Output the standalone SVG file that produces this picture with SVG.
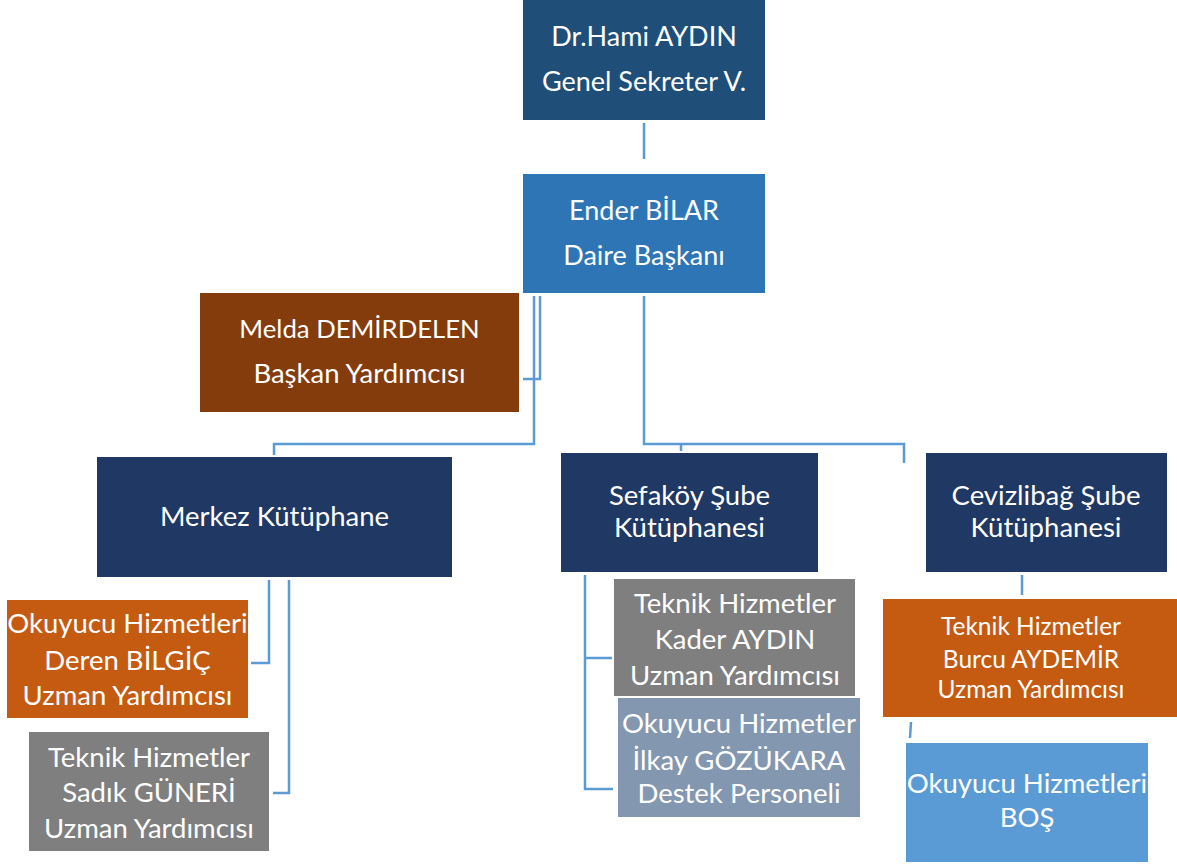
<svg xmlns="http://www.w3.org/2000/svg" width="1177" height="865" viewBox="0 0 1177 865">
<style>
text{font-family:Lato,"Open Sans","Liberation Sans",sans-serif;fill:#fff;text-anchor:middle}
.l{font-size:27.5px}
.t{font-size:27px}
.k{font-size:25.7px}
.s{font-size:24.5px}
.c{fill:none;stroke:#5B9BD5;stroke-width:2.5}
</style>
<rect width="1177" height="865" fill="#fff"/>
<g id="connectors">
<path class="c" d="M644 123V159"/>
<path class="c" d="M540 296V379H523"/>
<path class="c" d="M534 296V444H274V455"/>
<path class="c" d="M644 296V444H904V463"/>
<path class="c" d="M681 444V451"/>
<path class="c" d="M269 580V663H251"/>
<path class="c" d="M289 580V793H273"/>
<path class="c" d="M585 575V789H613M585 658H612"/>
<path class="c" d="M1022 575V595"/>
<path class="c" d="M911 722L910 738"/>
</g>
<g id="n-hami"><rect x="523" y="0" width="242" height="120" fill="#1F4E79"/><text class="t" x="644" y="46">Dr.Hami AYDIN</text><text class="t" x="644" y="91">Genel Sekreter V.</text></g>
<g id="n-ender"><rect x="523" y="174" width="242" height="119" fill="#2E75B6"/><text class="t" x="644" y="220">Ender BİLAR</text><text class="t" x="644" y="265">Daire Başkanı</text></g>
<g id="n-melda"><rect x="200" y="293" width="319" height="119" fill="#843C0C"/><text class="k" x="359.5" y="338">Melda DEMİRDELEN</text><text class="l" x="359.5" y="383">Başkan Yardımcısı</text></g>
<g id="n-merkez"><rect x="97" y="457" width="355" height="120" fill="#203864"/><text class="l" x="274.5" y="526">Merkez Kütüphane</text></g>
<g id="n-sefakoy"><rect x="561" y="453" width="257" height="119" fill="#203864"/><text class="l" x="689.5" y="505">Sefaköy Şube</text><text class="l" x="689.5" y="537">Kütüphanesi</text></g>
<g id="n-cevizlibag"><rect x="926" y="453" width="241" height="119" fill="#203864"/><text class="l" x="1046" y="505">Cevizlibağ Şube</text><text class="l" x="1046" y="537">Kütüphanesi</text></g>
<g id="n-deren"><rect x="7" y="600" width="241" height="118" fill="#C55A11"/><text class="l" x="127.5" y="633">Okuyucu Hizmetleri</text><text class="l" x="127.5" y="670">Deren BİLGİÇ</text><text class="l" x="127.5" y="705">Uzman Yardımcısı</text></g>
<g id="n-sadik"><rect x="29" y="732" width="240" height="119" fill="#7F7F7F"/><text class="l" x="149" y="767">Teknik Hizmetler</text><text class="l" x="149" y="802">Sadık GÜNERİ</text><text class="l" x="149" y="838">Uzman Yardımcısı</text></g>
<g id="n-kader"><rect x="614" y="579" width="241" height="117" fill="#7F7F7F"/><text class="l" x="735" y="613">Teknik Hizmetler</text><text class="l" x="735" y="649">Kader AYDIN</text><text class="l" x="735" y="685">Uzman Yardımcısı</text></g>
<g id="n-ilkay"><rect x="618" y="698" width="242" height="119" fill="#8497B0"/><text class="l" x="739" y="733">Okuyucu Hizmetler</text><text class="l" x="739" y="770">İlkay GÖZÜKARA</text><text class="l" x="739" y="803">Destek Personeli</text></g>
<g id="n-burcu"><rect x="883" y="599" width="294" height="118" fill="#C55A11"/><text class="s" x="1031" y="635">Teknik Hizmetler</text><text class="s" x="1031" y="668">Burcu AYDEMİR</text><text class="s" x="1031" y="698">Uzman Yardımcısı</text></g>
<g id="n-bos"><rect x="906" y="743" width="242" height="119" fill="#5B9BD5"/><text class="l" x="1027" y="793">Okuyucu Hizmetleri</text><text class="l" x="1027" y="827">BOŞ</text></g>
</svg>
